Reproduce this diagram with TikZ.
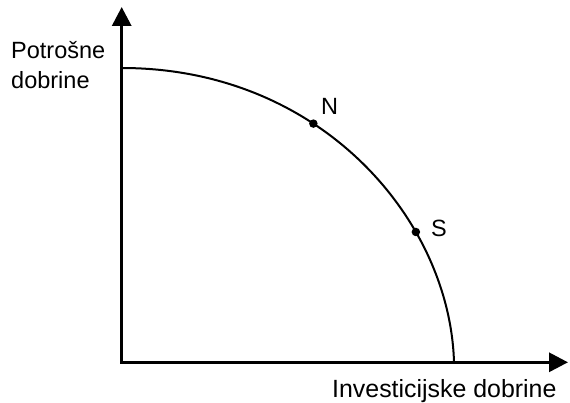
\documentclass[tikz,border=0pt]{standalone}
\usepackage{fontspec}
\setmainfont{Liberation Sans}
\usetikzlibrary{arrows.meta,positioning}

\begin{document}
\begin{tikzpicture}[x=1pt, y=-1pt,
          axis/.style={line width=3.2pt, {Triangle[length=19pt,width=19pt]}-{Triangle[length=19pt,width=19pt]}},
          frontier/.style={line width=2pt},
          dot/.style={circle, fill, inner sep=0pt, minimum size=8.5pt},
          axtext/.style={inner sep=0pt, font=\fontsize{23.5}{30}\selectfont}]
        \useasboundingbox (0,0) rectangle (570,403);
        % axes
        \coordinate (O) at (121.7,362.3);
        \coordinate (ytip) at (121.7,7);
        \coordinate (xtip) at (568,362.3);
        \draw[axis] (ytip) -- (O) -- (xtip);
        % frontier curve
        \coordinate (C0) at (121.7,68);
        \coordinate (C1) at (454,362.3);
        \draw[frontier] (C0) .. controls (321,68) and (450,220) .. (C1)
            node[dot, pos=0.375] (N) {}
            node[dot, pos=0.69] (S) {};
        % labels
        \node[axtext, anchor=base west] (lN) at (321,115) {N};
        \node[axtext, anchor=base west] (lS) at (431,237) {S};
        \node[axtext, anchor=north west, align=left] (lC) at (11,41) {Potrošne\\dobrine};
        \node[axtext, anchor=base west, font=\fontsize{24.9}{30}\selectfont] (lI) at (332,397) {Investicijske dobrine};
\end{tikzpicture}
\end{document}
